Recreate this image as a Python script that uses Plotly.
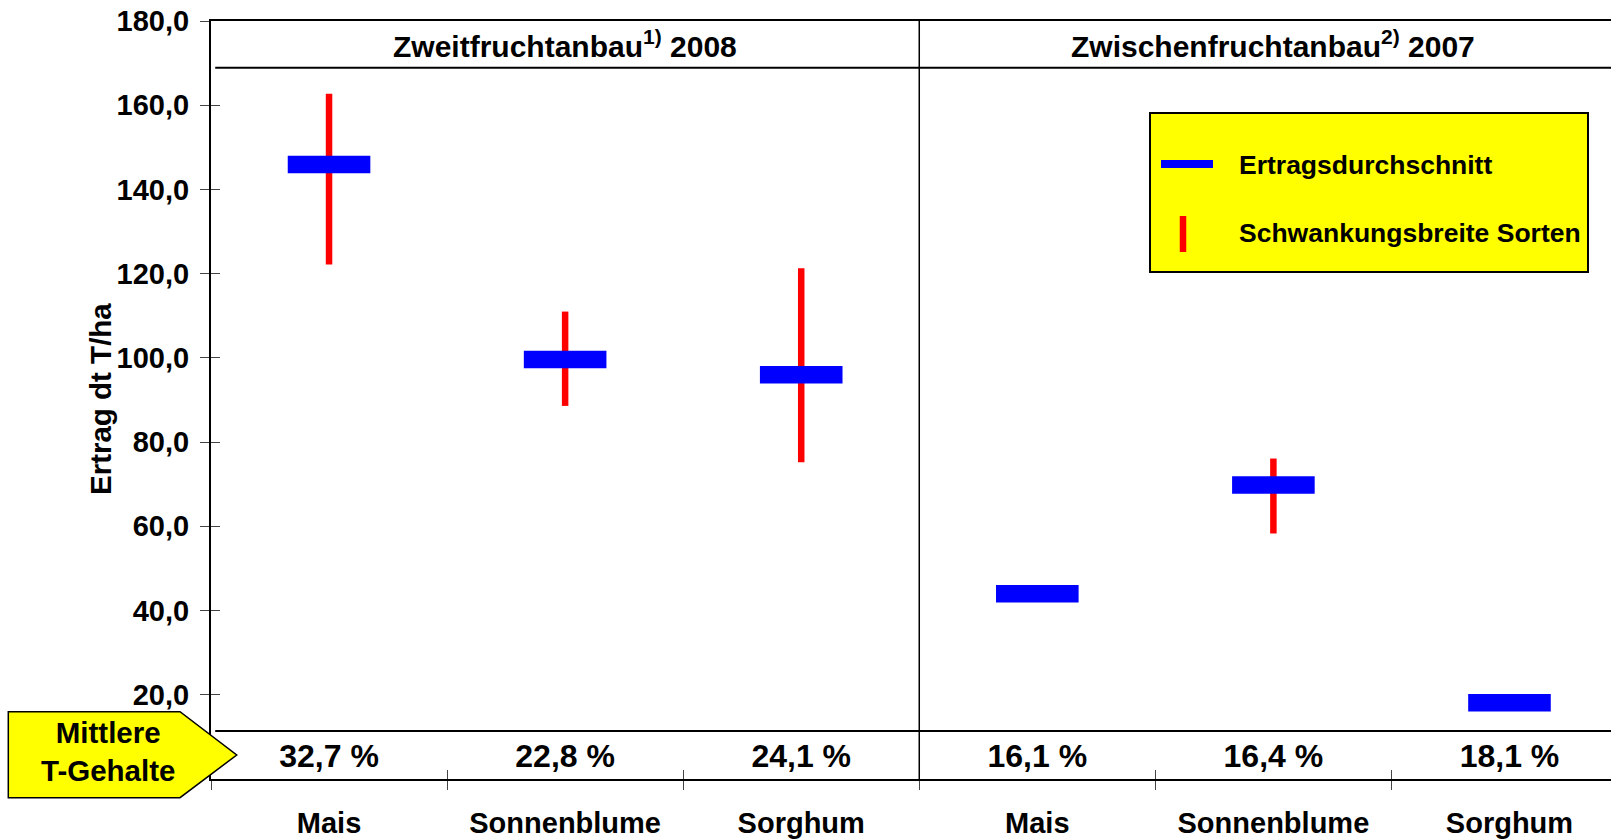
import plotly.graph_objects as go

# ---------------- data ----------------
categories = ["Mais", "Sonnenblume", "Sorghum", "Mais", "Sonnenblume", "Sorghum"]
mean_yield = [145.9, 99.6, 96.0, 44.0, 69.8, 18.1]
range_low = [122.2, 88.6, 75.2, None, 58.3, None]
range_high = [162.7, 111.0, 121.3, None, 76.1, None]
t_content = ["32,7 %", "22,8 %", "24,1 %", "16,1 %", "16,4 %", "18,1 %"]
panel_titles = ["Zweitfruchtanbau<sup>1)</sup> 2008", "Zwischenfruchtanbau<sup>2)</sup> 2007"]
y_ticks = [20, 40, 60, 80, 100, 120, 140, 160, 180]
y_ticktext = ["20,0", "40,0", "60,0", "80,0", "100,0", "120,0", "140,0", "160,0", "180,0"]

FONT = "Liberation Sans, Arial, sans-serif"
W, H = 1611, 840
ML, MR, MT, MB = 211, 0, 21, 61
YMAX = 180
XR = [-0.5, 5.43]
HEADER_Y = 168.9
BAND_Y = 11.4
BAND_MID = 4.7

xpos = list(range(len(categories)))

# red range lines
rx, ry = [], []
for x, lo, hi in zip(xpos, range_low, range_high):
    if lo is None or hi is None:
        continue
    rx += [x, x, None]
    ry += [lo, hi, None]

fig = go.Figure()
fig.add_trace(go.Scatter(
    x=rx, y=ry, mode="lines", name="Schwankungsbreite Sorten",
    line=dict(color="#FF0000", width=6.5), showlegend=False, hoverinfo="skip"))
fig.add_trace(go.Scatter(
    x=xpos, y=mean_yield, mode="markers", name="Ertragsdurchschnitt",
    marker=dict(symbol="line-ew", size=59, color="#0000FF",
                line=dict(color="#0000FF", width=17.5)),
    showlegend=False))
fig.add_trace(go.Scatter(
    x=xpos, y=[BAND_MID] * len(xpos), mode="text", text=t_content,
    textfont=dict(family=FONT, size=32, color="black", weight="bold"),
    showlegend=False, hoverinfo="skip"))

bounds = [i - 0.5 for i in range(len(categories))]

fig.update_layout(
    width=W, height=H,
    margin=dict(l=ML, r=MR, t=MT, b=MB),
    paper_bgcolor="white", plot_bgcolor="white",
    font=dict(family=FONT, color="black"),
    xaxis=dict(
        range=XR, tickvals=xpos, ticktext=categories, ticks="",
        tickfont=dict(family=FONT, size=29, weight="bold", color="black"),
        ticklabelstandoff=17, automargin=False,
        showline=True, linecolor="black", linewidth=2, mirror=True,
        showgrid=False, zeroline=False,
        minor=dict(tickmode="array", tickvals=bounds, ticks="outside",
                   ticklen=9, tickwidth=1, tickcolor="#444"),
    ),
    xaxis2=dict(
        range=XR, overlaying="x", anchor="y", side="bottom", automargin=False,
        tickvals=bounds, ticks="inside", ticklen=9, tickwidth=1, tickcolor="#444",
        showticklabels=False, showline=False, showgrid=False, zeroline=False,
    ),
    yaxis=dict(
        range=[0, YMAX], tickvals=y_ticks, ticktext=y_ticktext,
        ticks="outside", ticklen=9, tickwidth=1, tickcolor="#444",
        tickfont=dict(family=FONT, size=29, weight="bold", color="black"),
        ticklabelstandoff=5, automargin=False,
        showline=True, linecolor="black", linewidth=2,
        showgrid=False, zeroline=False,
    ),
    yaxis2=dict(
        range=[0, YMAX], overlaying="y", anchor="x", side="left", automargin=False,
        tickvals=y_ticks, ticks="inside", ticklen=9, tickwidth=1, tickcolor="#444",
        showticklabels=False, showline=False, showgrid=False, zeroline=False,
    ),
    showlegend=False,
)

# empty traces so the overlay axes are drawn
fig.add_trace(go.Scatter(x=[None], y=[None], xaxis="x2", yaxis="y", showlegend=False, hoverinfo="skip"))
fig.add_trace(go.Scatter(x=[None], y=[None], xaxis="x", yaxis="y2", showlegend=False, hoverinfo="skip"))

shapes = []
# header and T-content band separators
shapes.append(dict(type="line", xref="paper", yref="y", x0=0.003, x1=1, y0=HEADER_Y, y1=HEADER_Y,
                   line=dict(color="black", width=2)))
shapes.append(dict(type="line", xref="paper", yref="y", x0=0.003, x1=1, y0=BAND_Y, y1=BAND_Y,
                   line=dict(color="black", width=2)))
# panel divider
shapes.append(dict(type="line", xref="x", yref="paper", x0=2.5, x1=2.5, y0=0, y1=1,
                   line=dict(color="black", width=1.5)))


def px2paper_x(px):
    return (px - ML) / (W - ML - MR)


def px2paper_y(py):
    return (H - MB - py) / (H - MT - MB)


# yellow arrow "Mittlere T-Gehalte"
pts = [(8.3, 711.7), (180, 711.7), (236.7, 755), (180, 797.7), (8.3, 797.7)]
path = "M " + " L ".join(f"{px2paper_x(a):.5f},{px2paper_y(b):.5f}" for a, b in pts) + " Z"
shapes.append(dict(type="path", xref="paper", yref="paper", path=path,
                   fillcolor="#FFFF00", line=dict(color="black", width=1.5), layer="above"))

# legend box
shapes.append(dict(type="rect", xref="paper", yref="paper",
                   x0=px2paper_x(1150), x1=px2paper_x(1588), y0=px2paper_y(272), y1=px2paper_y(113),
                   fillcolor="#FFFF00", line=dict(color="black", width=2), layer="above"))
shapes.append(dict(type="line", xref="paper", yref="paper",
                   x0=px2paper_x(1161), x1=px2paper_x(1213), y0=px2paper_y(164), y1=px2paper_y(164),
                   line=dict(color="#0000FF", width=8), layer="above"))
shapes.append(dict(type="line", xref="paper", yref="paper",
                   x0=px2paper_x(1183), x1=px2paper_x(1183), y0=px2paper_y(252), y1=px2paper_y(216),
                   line=dict(color="#FF0000", width=6.5), layer="above"))

annotations = []
for i, t in enumerate(panel_titles):
    annotations.append(dict(x=1 + 3 * i, y=(HEADER_Y + YMAX) / 2, xref="x", yref="y", text=t,
                            showarrow=False, font=dict(family=FONT, size=30, weight="bold", color="black"),
                            xanchor="center", yanchor="middle"))
annotations.append(dict(x=px2paper_x(100), y=px2paper_y(399), xref="paper", yref="paper",
                        text="Ertrag dt T/ha", textangle=-90, showarrow=False,
                        font=dict(family=FONT, size=29.5, weight="bold", color="black"),
                        xanchor="center", yanchor="middle"))
annotations.append(dict(x=px2paper_x(108), y=px2paper_y(751), xref="paper", yref="paper",
                        text="Mittlere<br>T-Gehalte", showarrow=False,
                        font=dict(family=FONT, size=29.5, weight="bold", color="black"),
                        xanchor="center", yanchor="middle"))
annotations.append(dict(x=px2paper_x(1237), y=px2paper_y(165), xref="paper", yref="paper",
                        text="Ertragsdurchschnitt", showarrow=False,
                        font=dict(family=FONT, size=26.5, weight="bold", color="black"),
                        xanchor="left", yanchor="middle"))
annotations.append(dict(x=px2paper_x(1237), y=px2paper_y(233), xref="paper", yref="paper",
                        text="Schwankungsbreite Sorten", showarrow=False,
                        font=dict(family=FONT, size=26.5, weight="bold", color="black"),
                        xanchor="left", yanchor="middle"))

fig.update_layout(shapes=shapes, annotations=annotations)
fig.write_html("out.html", config={"displayModeBar": False},
               post_script="document.body.style.margin='0';")
